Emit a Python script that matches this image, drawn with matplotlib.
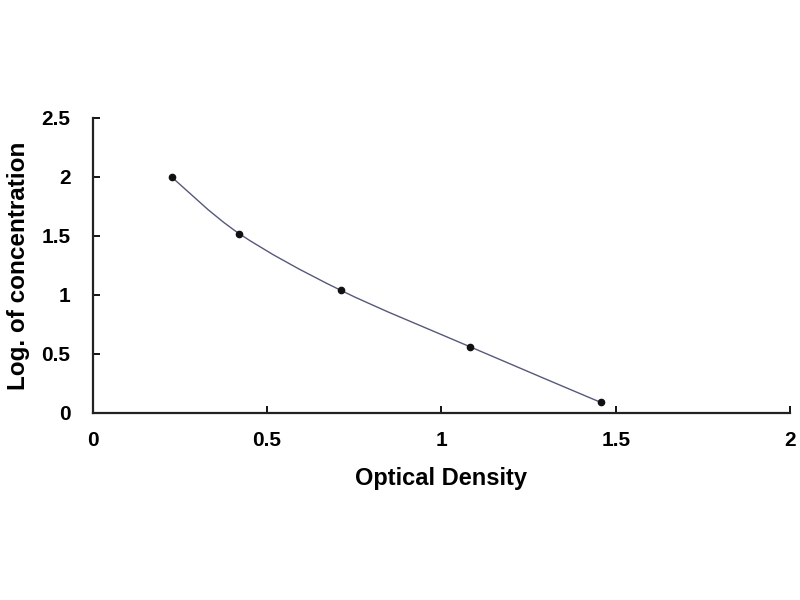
import matplotlib
matplotlib.use("Agg")
import matplotlib.pyplot as plt
import numpy as np
from matplotlib.path import Path
from matplotlib.patches import PathPatch

od = [0.226, 0.42, 0.711, 1.083, 1.457]
logc = [2.0, 1.52, 1.04, 0.56, 0.09]
xticks = [0, 0.5, 1, 1.5, 2]
yticks = [0, 0.5, 1, 1.5, 2, 2.5]
xtick_labels = ["0", "0.5", "1", "1.5", "2"]
ytick_labels = ["0", "0.5", "1", "1.5", "2", "2.5"]

plt.rcParams['font.family'] = ['Liberation Sans', 'DejaVu Sans']
fig = plt.figure(figsize=(8, 6), dpi=100)
ax = fig.add_axes([0.116, 0.3117, 0.8715, 0.4917])

# Excel-style smoothed line (cubic Bezier through data points)
pts = np.column_stack([od, logc])
verts = [tuple(pts[0])]
codes = [Path.MOVETO]
t = 1.0 / 6.0
n = len(pts)
for i in range(n - 1):
    p0 = pts[i - 1] if i > 0 else pts[i]
    p1 = pts[i]
    p2 = pts[i + 1]
    p3 = pts[i + 2] if i + 2 < n else pts[i + 1]
    c1 = p1 + (p2 - p0) * t
    c2 = p2 - (p3 - p1) * t
    verts += [tuple(c1), tuple(c2), tuple(p2)]
    codes += [Path.CURVE4, Path.CURVE4, Path.CURVE4]
patch = PathPatch(Path(verts, codes), facecolor='none', edgecolor='#55597a', lw=1.0)
ax.add_patch(patch)
ax.plot(od, logc, linestyle='none', marker='o', markersize=4.5, color='#111111')

ax.set_xlim(0, 2)
ax.set_ylim(0, 2.5)
ax.set_xticks(xticks)
ax.set_xticklabels(xtick_labels)
ax.set_yticks(yticks)
ax.set_yticklabels(ytick_labels)
for s in ['top', 'right']:
    ax.spines[s].set_visible(False)
for s in ['left', 'bottom']:
    ax.spines[s].set_linewidth(1.6)
    ax.spines[s].set_color('#222222')
ax.tick_params(axis='x', direction='in', length=5, width=1.3, pad=13, labelsize=15)
ax.tick_params(axis='y', direction='in', length=5, width=1.3, pad=16, labelsize=15)
for lab in ax.get_xticklabels() + ax.get_yticklabels():
    lab.set_fontweight('bold')
ax.set_xlabel('Optical Density', fontsize=17, fontweight='bold', labelpad=12)
ax.set_ylabel('Log. of concentration', fontsize=17.5, fontweight='bold', labelpad=8)

fig.savefig('out.png', dpi=100)
